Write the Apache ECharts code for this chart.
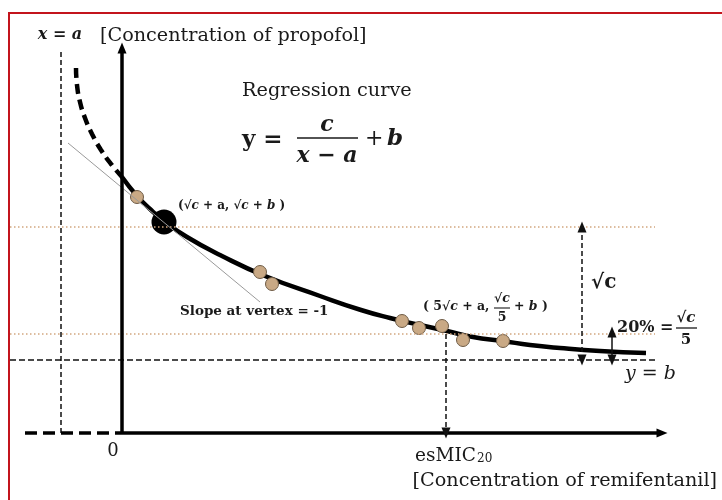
<!DOCTYPE html>
<html>
<head>
<meta charset="utf-8">
<script src="https://cdn.jsdelivr.net/npm/echarts@6/dist/echarts.min.js"></script>
<style>html,body{margin:0;padding:0;background:#fff;}#c{width:722px;height:500px;}</style>
</head>
<body>
<div id="c"></div>
<script>
// ---- data (arbitrary units) ----
const curveDashed = [[-4.6,36.5],[-4.5,34.8],[-4.2,33.1],[-3.7,31.5],[-3.0,29.9],[-2.1,28.3],[-1.1,26.9],[0,25.6]];
const curveSolid = [[0,25.6],[1.5,23.7],[2.8,22.4],[4.2,21.2],[6.5,19.6],[9.8,17.8],[14.3,15.7],[19.8,13.7],[23.9,12.3],[26.8,11.5],[29.8,10.8],[32.5,10.2],[35.1,9.6],[38.1,9.2],[40.8,8.8],[43.8,8.5],[47.8,8.2],[52.4,8.0]];
const observations = [[1.5,23.6],[13.8,16.1],[15.0,14.9],[28.0,11.2],[29.7,10.5],[32.0,10.7],[34.1,9.3],[38.1,9.2]];
const vertex = [[4.2,21.1]];
const tangent = [[-5.4,29.0],[13.8,13.1]];
const asymptoteX = -6.1;      // x = a
const asymptoteY = 7.3;       // y = b
const levelVertex = 20.6;     // sqrt(c) + b
const level20 = 9.9;          // sqrt(c)/5 + b
const esMIC20 = 32.4;
const sqrtcArrowX = 46.0;
const pctArrowX = 49.0;
const pctArrowTop = 10.1;
const xAxisEnd = 54.0;
const yAxisEnd = 38.5;
const xAxisDashStart = -9.7;
const asymptoteTop = 38.1;
const guideEnd = 53.3;
const xMin = -11.2, xMax = 56, yMin = 0, yMax = 40;
const xTickLabels = [{value: 0, text: '0'}, {value: esMIC20, text: 'esMIC'}];

const SERIF = '"DejaVu Serif", "Liberation Serif", serif';
const chart = echarts.init(document.getElementById('c'));

function seg(p1, p2, style, s1, s2) {
  return [
    {coord: p1, symbol: s1 || 'none', symbolSize: [9, 11], lineStyle: style},
    {coord: p2, symbol: s2 || 'none', symbolSize: [9, 11]}
  ];
}
const dotted = {color: '#d2a77f', width: 1.6, type: [1.5, 2.5]};
const thinDash = {color: '#111', width: 1.5, type: [5, 3]};

chart.setOption({
  animation: false,
  grid: {left: 10, right: 40, top: 33, bottom: 67},
  xAxis: {type: 'value', min: xMin, max: xMax, show: false},
  yAxis: {type: 'value', min: yMin, max: yMax, show: false},
  series: [
    {
      type: 'line', data: [], silent: true,
      markLine: {
        silent: true, animation: false, label: {show: false},
        data: [
          seg([xMin, levelVertex], [guideEnd, levelVertex], dotted),
          seg([xMin, level20], [guideEnd, level20], dotted),
          seg([xMin, asymptoteY], [guideEnd, asymptoteY], {color: '#111', width: 1.5, type: [6, 3]}),
          seg([asymptoteX, asymptoteTop], [asymptoteX, 0], {color: '#111', width: 1.5, type: [5, 3]}),
          seg([tangent[0][0], tangent[0][1]], [tangent[1][0], tangent[1][1]], {color: '#9a9a9a', width: 1, type: 'solid'}),
          seg([xAxisDashStart, 0], [0, 0], {color: '#000', width: 3.5, type: [12, 6]}),
          seg([0, 0], [xAxisEnd, 0], {color: '#000', width: 3.5, type: 'solid'}, 'none', 'triangle'),
          seg([0, 0], [0, yAxisEnd], {color: '#000', width: 3.5, type: 'solid'}, 'none', 'triangle'),
          seg([esMIC20, level20], [esMIC20, 0], thinDash, 'none', 'triangle'),
          seg([sqrtcArrowX, asymptoteY], [sqrtcArrowX, levelVertex], thinDash, 'triangle', 'triangle'),
          seg([pctArrowX, asymptoteY], [pctArrowX, pctArrowTop], {color: '#111', width: 1.5, type: 'solid'}, 'triangle', 'triangle')
        ]
      }
    },
    {
      type: 'line', data: curveDashed, smooth: 0.5, showSymbol: false, silent: true,
      lineStyle: {color: '#000', width: 4.5, type: [10, 6]}, z: 3
    },
    {
      type: 'line', data: curveSolid, smooth: 0.5, showSymbol: false, silent: true,
      lineStyle: {color: '#000', width: 4.5}, z: 3
    },
    {
      type: 'scatter', data: observations, symbolSize: 13, silent: true, z: 4,
      itemStyle: {color: '#c9a985', borderColor: '#6e5b45', borderWidth: 1, opacity: 1}
    },
    {
      type: 'scatter', data: vertex, symbolSize: 25, silent: true, z: 4,
      itemStyle: {color: '#000', opacity: 1}
    }
  ]
});

function txt(text, x, y, opt) {
  opt = opt || {};
  return {
    type: 'text', z: 100, silent: true,
    style: Object.assign({
      text: text, x: x, y: y,
      fontFamily: SERIF, fontSize: 17, fill: '#1a1a1a',
      align: 'left', verticalAlign: 'middle',
      textAlign: 'left', textVerticalAlign: 'middle'
    }, opt)
  };
}
function bar(x1, x2, y, w) {
  return {type: 'line', z: 100, silent: true, shape: {x1: x1, y1: y, x2: x2, y2: y}, style: {stroke: '#1a1a1a', lineWidth: w || 1.2}};
}
const italicRich = function (size) {
  return {i: {fontFamily: SERIF, fontSize: size, fontWeight: 'bold', fontStyle: 'italic', fill: '#1a1a1a'}};
};

const g = [];
// frame
g.push({type: 'rect', z: 0, silent: true, shape: {x: 9, y: 13, width: 740, height: 520}, style: {fill: 'none', stroke: '#c3141c', lineWidth: 2}});
// top labels
g.push(txt('x = a', 60, 35, {fontStyle: 'italic', fontWeight: 'bold', fontSize: 16, align: 'center', textAlign: 'center'}));
g.push(txt('[Concentration of propofol]', 100, 36, {fontSize: 19.2}));
// formula
g.push(txt('Regression curve', 242, 91, {fontSize: 19.3}));
g.push(txt('y =', 242, 140, {fontSize: 23, fontWeight: 'bold'}));
g.push(txt('c', 327, 125, {fontSize: 22, fontWeight: 'bold', fontStyle: 'italic', align: 'center', textAlign: 'center'}));
g.push(bar(297, 358, 138, 1.6));
g.push(txt('x \u2212 a', 327, 156, {fontSize: 22, fontWeight: 'bold', fontStyle: 'italic', align: 'center', textAlign: 'center'}));
g.push(txt('+', 365, 139, {fontSize: 22}));
g.push(txt('b', 387, 139, {fontSize: 23, fontWeight: 'bold', fontStyle: 'italic'}));
// vertex label
g.push(txt('(\u221A{i|c} + a, \u221A{i|c} + {i|b} )', 178, 206, {fontSize: 12, fontWeight: 'bold', rich: italicRich(12)}));
g.push(txt('Slope at vertex = -1', 180, 311, {fontSize: 13.5, fontWeight: 'bold'}));
// 20% point label
g.push(txt('( 5\u221A{i|c} + a,', 423, 307, {fontSize: 12.5, fontWeight: 'bold', rich: italicRich(12.5)}));
g.push(txt('\u221A{i|c}', 502, 299, {fontSize: 12.5, fontWeight: 'bold', align: 'center', textAlign: 'center', rich: italicRich(12.5)}));
g.push(bar(494, 510, 308, 1.1));
g.push(txt('5', 502, 318, {fontSize: 12.5, fontWeight: 'bold', align: 'center', textAlign: 'center'}));
g.push(txt('+ {i|b} )', 514, 307, {fontSize: 12.5, fontWeight: 'bold', rich: italicRich(12.5)}));
// right labels
g.push(txt('\u221Ac', 591, 283, {fontSize: 20, fontWeight: 'bold'}));
g.push(txt('20% =', 617, 328, {fontSize: 16, fontWeight: 'bold'}));
g.push(txt('\u221A{i|c}', 686, 318, {fontSize: 15, fontWeight: 'bold', align: 'center', textAlign: 'center', rich: italicRich(15)}));
g.push(bar(676, 697, 328, 1.3));
g.push(txt('5', 686, 340, {fontSize: 15, fontWeight: 'bold', align: 'center', textAlign: 'center'}));
g.push(txt('y = b', 625, 374, {fontSize: 19, fontStyle: 'italic'}));
// bottom labels (ticks placed through the axis scale)
const p0 = chart.convertToPixel({gridIndex: 0}, [xTickLabels[0].value, 0]);
g.push(txt(xTickLabels[0].text, p0[0] - 9, p0[1] + 18, {fontSize: 18, align: 'center', textAlign: 'center'}));
const p1 = chart.convertToPixel({gridIndex: 0}, [xTickLabels[1].value, 0]);
g.push(txt(xTickLabels[1].text, p1[0] - 31, p1[1] + 23, {fontSize: 18.5}));
g.push(txt('20', p1[0] + 31, p1[1] + 26, {fontSize: 12}));
g.push(txt('[Concentration of remifentanil]', 717, 481, {fontSize: 19.2, align: 'right', textAlign: 'right'}));

chart.setOption({graphic: g});
</script>
</body>
</html>
